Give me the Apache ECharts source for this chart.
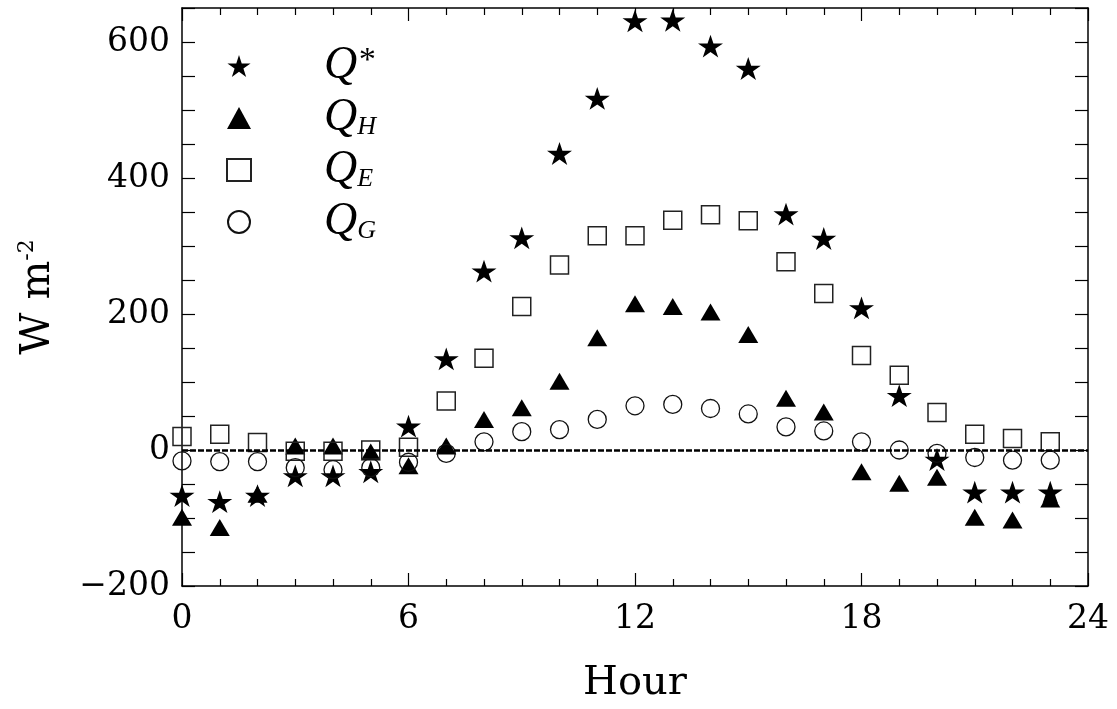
<!DOCTYPE html>
<html>
<head>
<meta charset="utf-8">
<script src="https://cdn.jsdelivr.net/npm/echarts@6/dist/echarts.min.js"></script>
<style>html,body{margin:0;padding:0;background:#fff;}#c{width:1117px;height:709px;}</style>
</head>
<body>
<div id="c"></div>
<script>
// ---- data ----
var hours = [0,1,2,3,4,5,6,7,8,9,10,11,12,13,14,15,16,17,18,19,20,21,22,23];
var qStar = [-67,-76,-67,-38,-38,-32,35,134,263,312,436,517,631,632,594,561,347,311,209,80,-14,-62,-62,-62];
var qH    = [-99,-114,-65,6,6,-3,-23,6,45,62,101,165,215,211,203,170,76,56,-32,-49,-40,-99,-103,-72];
var qE    = [20,23,11,-2,-2,0,4,72,135,211,272,315,315,338,346,337,277,230,139,110,55,23,17,12];
var qG    = [-16,-17,-17,-26,-29,-26,-18,-5,12,27,30,45,65,67,61,53,34,28,12,0,-5,-11,-15,-15];
var xTicks = [0,6,12,18,24];
var yTicks = [-200,0,200,400,600];
var seriesNames = ['Q*','QH','QE','QG'];

var starPath = 'path://M0,-100 L22.45,-30.9 L95.1,-30.9 L36.3,11.8 L58.8,80.9 L0,38.2 L-58.8,80.9 L-36.3,11.8 L-95.1,-30.9 L-22.45,-30.9 Z';

function pairs(arr){ return hours.map(function(h,i){ return [h, arr[i]]; }); }

var serif = 'DejaVu Serif';
var chart = echarts.init(document.getElementById('c'));

var legendFmt = {
  'Q*': '{g| }{q|Q}{sup|*}',
  'QH': '{g| }{q|Q}{sub|H}',
  'QE': '{g| }{q|Q}{sub|E}',
  'QG': '{g| }{q|Q}{sub|G}'
};

var xCommon = {
  type: 'value', min: 0, max: 24, interval: 6,
  axisLine: {show: true, onZero: false, lineStyle: {color: '#000', width: 1.5}},
  axisTick: {show: true, inside: true, length: 13, lineStyle: {color: '#000', width: 1.2}},
  minorTick: {show: true, splitNumber: 6, length: 7, lineStyle: {color: '#000', width: 1.2}},
  splitLine: {show: false}
};
var yCommon = {
  type: 'value', min: -200, max: 650, interval: 50,
  axisLine: {show: true, onZero: false, lineStyle: {color: '#000', width: 1.5}},
  axisTick: {show: true, inside: true, length: 13, lineStyle: {color: '#000', width: 1.2}},
  splitLine: {show: false}
};

var option = {
  animation: false,
  backgroundColor: '#fff',
  grid: {left: 182, right: 29, top: 8, bottom: 122, containLabel: false},
  legend: {
    orient: 'vertical', left: 221, top: 38,
    itemWidth: 24, itemHeight: 22, itemGap: 6,
    data: seriesNames,
    formatter: function(n){ return legendFmt[n]; },
    textStyle: {
      color: '#000',
      rich: {
        g: {width: 68, fontSize: 10},
        q: {fontFamily: 'Liberation Serif', fontStyle: 'italic', fontSize: 46, lineHeight: 44, color: '#000'},
        sub: {fontFamily: 'Liberation Serif', fontStyle: 'italic', fontSize: 26, lineHeight: 24, verticalAlign: 'bottom', color: '#000'},
        sup: {fontFamily: 'Liberation Serif', fontStyle: 'italic', fontSize: 34, lineHeight: 30, verticalAlign: 'top', color: '#000'}
      }
    }
  },
  xAxis: [
    Object.assign({}, xCommon, {
      position: 'bottom',
      axisLabel: {show: true, margin: 17, color: '#000', fontFamily: serif, fontSize: 33,
        formatter: function(v){ return xTicks.indexOf(v) >= 0 ? String(v) : ''; }},
      name: 'Hour', nameLocation: 'middle', nameGap: 78,
      nameTextStyle: {color: '#000', fontFamily: serif, fontSize: 40}
    }),
    Object.assign({}, xCommon, {position: 'top', axisLabel: {show: false}})
  ],
  yAxis: [
    Object.assign({}, yCommon, {
      position: 'left',
      axisLabel: {show: true, margin: 12, color: '#000', fontFamily: serif, fontSize: 33,
        formatter: function(v){ return yTicks.indexOf(v) >= 0 ? String(v).replace('-', '\u2212') : ''; }},
      name: '{a|W m}{b|-2}', nameLocation: 'middle', nameGap: 122, nameRotate: 90,
      nameTextStyle: {color: '#000', rich: {
        a: {fontFamily: serif, fontSize: 41, lineHeight: 44, color: '#000'},
        b: {fontFamily: serif, fontSize: 22, lineHeight: 22, verticalAlign: 'top', color: '#000'}
      }}
    }),
    Object.assign({}, yCommon, {position: 'right', axisLabel: {show: false}})
  ],
  series: [
    {
      name: 'Q*', type: 'scatter', data: pairs(qStar),
      symbol: starPath, symbolSize: [25, 24], symbolKeepAspect: true,
      itemStyle: {color: '#000', opacity: 1}, z: 3,
      markLine: {
        silent: true, symbol: 'none', label: {show: false},
        lineStyle: {color: '#000', type: [6, 2], width: 2.5, opacity: 1},
        data: [{yAxis: 0}]
      }
    },
    {
      name: 'QH', type: 'scatter', data: pairs(qH),
      symbol: 'triangle', symbolSize: [20, 17],
      itemStyle: {color: '#000', opacity: 1}, z: 3
    },
    {
      name: 'QE', type: 'scatter', data: pairs(qE),
      symbol: 'rect', symbolSize: 18,
      itemStyle: {color: 'rgba(0,0,0,0)', borderColor: '#222', borderWidth: 1.5, opacity: 1}, z: 3
    },
    {
      name: 'QG', type: 'scatter', data: pairs(qG),
      symbol: 'circle', symbolSize: 18,
      itemStyle: {color: 'rgba(0,0,0,0)', borderColor: '#111', borderWidth: 1.3, opacity: 1}, z: 3
    }
  ]
};
chart.setOption(option);
</script>
</body>
</html>
